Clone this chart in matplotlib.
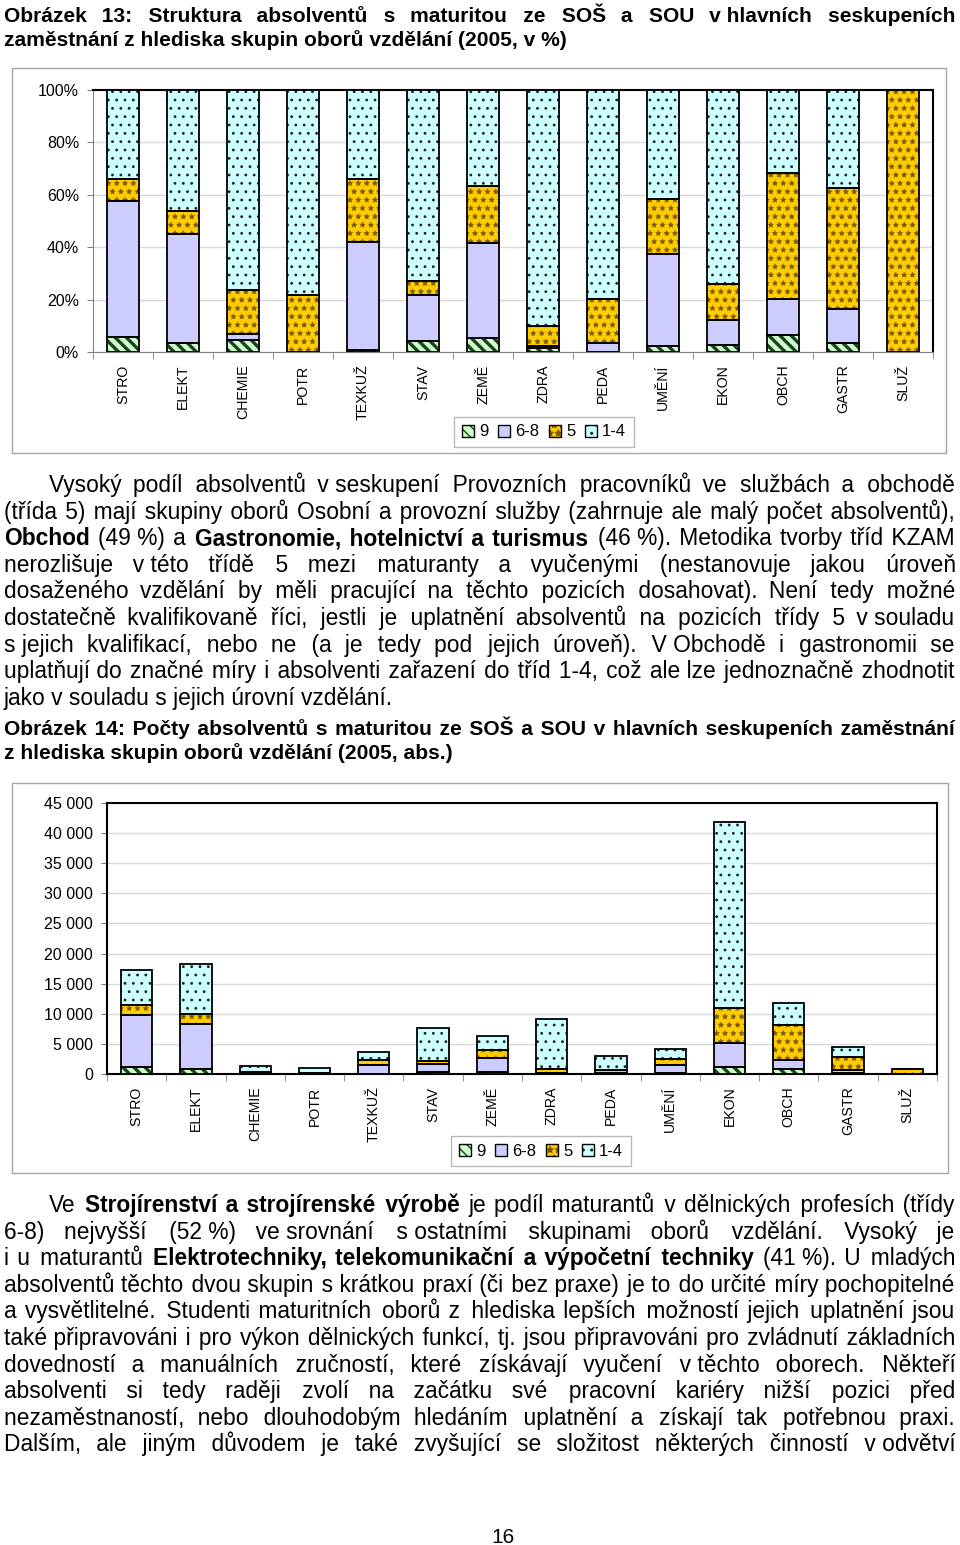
import numpy as np
import matplotlib
matplotlib.use('Agg')
import matplotlib.pyplot as plt
from matplotlib.patches import Patch, Rectangle

plt.rcParams['font.family'] = ['Liberation Sans', 'DejaVu Sans']

W, H = 960, 1545

categories = ['STRO', 'ELEKT', 'CHEMIE', 'POTR', 'TEXKUŽ', 'STAV', 'ZEMĚ',
              'ZDRA', 'PEDA', 'UMĚNÍ', 'EKON', 'OBCH', 'GASTR', 'SLUŽ']
series = ['9', '6-8', '5', '1-4']
colors = ['#ccffcc', '#ccccff', '#ffcc00', '#ccffff']
hatches = ['\\\\\\', '', '**', '..']
hatch_colors = ['#1e4020', '#ccccff', '#7a5a00', '#202020']
hatch_lw = [2.4, 1.0, 0.3, 0.8]

# shares in % (figure 13)
pct_9 = [5.7, 3.4, 4.7, 0.0, 0.6, 4.1, 5.2, 1.5, 0.0, 2.4, 2.8, 6.5, 3.4, 0.0]
pct_68 = [51.9, 41.7, 2.2, 0.0, 41.3, 17.8, 36.4, 0.9, 3.4, 35.0, 9.5, 13.7, 13.0, 0.0]
pct_5 = [8.3, 8.9, 16.9, 21.9, 24.0, 5.3, 21.6, 7.4, 16.8, 20.9, 13.7, 48.3, 46.1, 100.0]
pct_14 = [34.1, 46.0, 76.2, 78.1, 34.1, 72.8, 36.8, 90.2, 79.8, 41.7, 74.0, 31.5, 37.5, 0.0]

# absolute counts (figure 14)
abs_9 = [1100, 800, 60, 0, 20, 300, 300, 140, 0, 100, 1200, 800, 150, 0]
abs_68 = [8700, 7500, 30, 0, 1500, 1400, 2300, 80, 100, 1450, 4000, 1500, 580, 0]
abs_5 = [1700, 1600, 220, 230, 870, 400, 1350, 680, 510, 870, 5700, 5800, 2050, 800]
abs_14 = [5800, 8400, 990, 820, 1260, 5500, 2300, 8250, 2440, 1730, 31000, 3700, 1670, 0]

title13 = ['Obrázek 13: Struktura absolventů s maturitou ze SOŠ a SOU v\u00a0hlavních seskupeních',
           'zaměstnání z hlediska skupin oborů vzdělání (2005, v %)']
title14 = ['Obrázek 14: Počty absolventů s maturitou ze SOŠ a SOU v hlavních seskupeních zaměstnání',
           'z hlediska skupin oborů vzdělání (2005, abs.)']
para1 = ['Vysoký podíl absolventů v\u00a0seskupení Provozních pracovníků ve službách a obchodě',
         '(třída 5) mají skupiny oborů Osobní a provozní služby (zahrnuje ale malý počet absolventů),',
         '**Obchod** (49\u00a0%) a **Gastronomie, hotelnictví a turismus** (46\u00a0%). Metodika tvorby tříd KZAM',
         'nerozlišuje v\u00a0této třídě 5 mezi maturanty a vyučenými (nestanovuje jakou úroveň',
         'dosaženého vzdělání by měli pracující na těchto pozicích dosahovat). Není tedy možné',
         'dostatečně kvalifikovaně říci, jestli je uplatnění absolventů na pozicích třídy 5 v\u00a0souladu',
         's\u00a0jejich kvalifikací, nebo ne (a je tedy pod jejich úroveň). V\u00a0Obchodě i gastronomii se',
         'uplatňují do značné míry i absolventi zařazení do tříd 1-4, což ale lze jednoznačně zhodnotit',
         'jako v souladu s jejich úrovní vzdělání.']
para2 = ['Ve **Strojírenství a strojírenské výrobě** je podíl maturantů v dělnických profesích (třídy',
         '6-8) nejvyšší (52\u00a0%) ve\u00a0srovnání s\u00a0ostatními skupinami oborů vzdělání. Vysoký je',
         'i u maturantů **Elektrotechniky, telekomunikační a výpočetní techniky** (41\u00a0%). U mladých',
         'absolventů těchto dvou skupin s krátkou praxí (či bez praxe) je to do určité míry pochopitelné',
         'a vysvětlitelné. Studenti maturitních oborů z hlediska lepších možností jejich uplatnění jsou',
         'také připravováni i pro výkon dělnických funkcí, tj. jsou připravováni pro zvládnutí základních',
         'dovedností a manuálních zručností, které získávají vyučení v\u00a0těchto oborech. Někteří',
         'absolventi si tedy raději zvolí na začátku své pracovní kariéry nižší pozici před',
         'nezaměstnaností, nebo dlouhodobým hledáním uplatnění a získají tak potřebnou praxi.',
         'Dalším, ale jiným důvodem je také zvyšující se složitost některých činností v\u00a0odvětví']

fig = plt.figure(figsize=(W / 100, H / 100), dpi=100)
renderer = fig.canvas.get_renderer()


def fx(px):
    return px / W


def fy(py):
    return 1 - py / H


def measure(s, size, weight):
    t = fig.text(0, 0, s, fontsize=size, fontweight=weight)
    w = t.get_window_extent(renderer).width
    t.remove()
    return w


_space_cache = {}


def space_table(size, weight):
    # widths of the space characters used to stretch a line
    key = (size, weight)
    if key not in _space_cache:
        base = measure('xx', size, weight)
        tab = []
        for s in [' ', '\u2002', '\u2003', '\u2009', '\u200a']:
            w = measure('x' + s + 'x', size, weight) - base
            if w > 0.5:
                tab.append((w, s))
        _space_cache[key] = sorted(tab, reverse=True)
    return _space_cache[key]


def fill_gap(g, tab):
    out, rem = '', g
    for w, s in tab:
        n = int(max(rem, 0) // w)
        out += s * n
        rem -= n * w
    return out, g - rem


def text_line(y, x0, x1, line, size, justify=True, bold=False):
    tokens = []
    for i, part in enumerate(line.split('**')):
        for w in part.split(' '):
            if w:
                tokens.append((w, 'bold' if (bold or i % 2 == 1) else 'normal'))
    widths = [measure(w, size, wt) for w, wt in tokens]
    n = len(tokens)
    sp = dict((s, w) for w, s in space_table(size, 'normal'))[' ']
    gap = (x1 - x0 - sum(widths)) / (n - 1) if (justify and n > 1) else sp
    runs = []
    xpos = x0
    carry = 0.0
    for i, (w, wt) in enumerate(tokens):
        if i > 0 and wt == runs[-1][2]:
            prev = tokens[i - 1][0]
            pair = measure(prev + ' ' + w, size, wt)
            tab = space_table(size, wt)
            sp_w = dict((s, v) for v, s in tab)[' ']
            extra = pair - widths[i - 1] - widths[i] - sp_w
            target = gap - extra + carry
            s, actual = fill_gap(target, tab)
            carry = target - actual
            runs[-1][1] += s + w
        else:
            runs.append([xpos, w, wt])
            carry = 0.0
        xpos += widths[i] + gap
    for rx, s, wt in runs:
        fig.text(fx(rx), fy(y), s, fontsize=size, fontweight=wt, va='baseline', ha='left')


def paragraph(lines, y0, step, size, indent, x0=4, x1=956, last_justify=False):
    for i, line in enumerate(lines):
        last = i == len(lines) - 1
        text_line(y0 + i * step, x0 + (indent if i == 0 else 0), x1, line, size,
                  justify=(not last) or last_justify)


def stacked(ax, data):
    x = np.arange(len(categories))
    bottom = np.zeros(len(categories))
    for vals, c, h, hc, hl in zip(data, colors, hatches, hatch_colors, hatch_lw):
        with plt.rc_context({'hatch.linewidth': hl}):
            ax.bar(x, vals, 0.53, bottom=bottom, color=c, edgecolor=hc,
                   linewidth=0, hatch=h, zorder=3)
        ax.bar(x, vals, 0.53, bottom=bottom, fill=False, edgecolor='black',
               linewidth=1.3, zorder=4)
        bottom += np.array(vals, dtype=float)
    ax.set_xlim(-0.5, len(categories) - 0.5)
    ax.set_xticks(x)
    ax.set_xticklabels(categories, rotation=90, va='top', ha='center', fontsize=10.2)
    ax.set_xticks(np.arange(-0.5, len(categories)), minor=True)
    ax.tick_params(axis='x', which='major', length=0, pad=9)
    ax.tick_params(axis='x', which='minor', length=5, color='#808080')
    ax.tick_params(axis='y', length=4, color='#808080', labelsize=11.5, pad=6)
    ax.yaxis.grid(True, color='#d9d9d9', lw=1)
    ax.set_axisbelow(True)


def frame(left, top, right, bottom):
    fig.add_artist(Rectangle((fx(left), fy(bottom)), (right - left) / W, (bottom - top) / H,
                             transform=fig.transFigure, fill=False, edgecolor='#a6a6a6', lw=1))


def legend(cx, cy):
    handles = []
    for c, h, hc, hl in zip(colors, hatches, hatch_colors, hatch_lw):
        with plt.rc_context({'hatch.linewidth': hl}):
            fill = Patch(facecolor=c, edgecolor=hc, hatch=h, lw=0)
        handles.append((fill, Patch(fill=False, edgecolor='black', lw=1)))
    leg = fig.legend(handles, series, loc='center', bbox_to_anchor=(fx(cx), fy(cy)), ncol=4,
                     fontsize=12, frameon=True, fancybox=False, edgecolor='#a6a6a6',
                     handlelength=0.75, handleheight=0.75, handletextpad=0.3,
                     columnspacing=0.55, borderpad=0.45)
    leg.get_frame().set_linewidth(1)


# Figure 13
text_line(22, 4, 956, title13[0], 15.1, bold=True)
text_line(46, 4, 956, title13[1], 15.1, justify=False, bold=True)

frame(12, 68, 946, 453)
ax1 = fig.add_axes([fx(93), fy(352), 840 / W, 262 / H])
stacked(ax1, [pct_9, pct_68, pct_5, pct_14])
ax1.set_ylim(0, 100)
ax1.set_yticks(range(0, 101, 20))
ax1.set_yticklabels([f'{v}%' for v in range(0, 101, 20)])
for side in ['top', 'right']:
    ax1.spines[side].set_color('black')
    ax1.spines[side].set_linewidth(1.5)
for side in ['left', 'bottom']:
    ax1.spines[side].set_color('#808080')
legend(544, 432)

paragraph(para1, 492, 26.6, 16.4, 45)

# Figure 14
text_line(735, 4, 956, title14[0], 15.1, bold=True)
text_line(759, 4, 956, title14[1], 15.1, justify=False, bold=True)

frame(12, 783, 948, 1173)
ax2 = fig.add_axes([fx(107), fy(1074), 830 / W, 271 / H])
stacked(ax2, [abs_9, abs_68, abs_5, abs_14])
ax2.set_ylim(0, 45000)
ax2.set_yticks(range(0, 45001, 5000))
ax2.set_yticklabels([f'{v:,}'.replace(',', ' ') for v in range(0, 45001, 5000)])
for side in ax2.spines.values():
    side.set_color('black')
    side.set_linewidth(1.5)
legend(541, 1151)

paragraph(para2, 1212, 26.6, 16.4, 45, last_justify=True)

fig.text(fx(503), fy(1543), '16', ha='center', va='baseline', fontsize=15)

fig.savefig('out.png', dpi=100)
